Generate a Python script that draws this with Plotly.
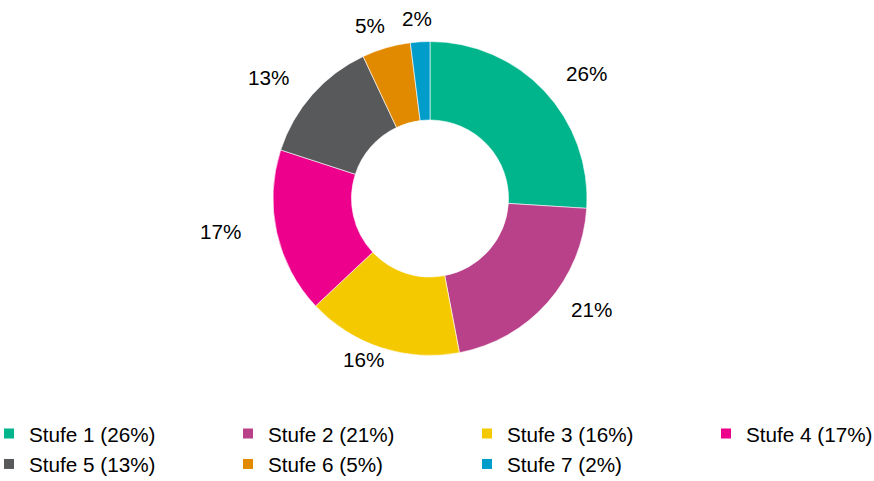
import math
import plotly.graph_objects as go

categories = ["Stufe 1", "Stufe 2", "Stufe 3", "Stufe 4", "Stufe 5", "Stufe 6", "Stufe 7"]
values = [26, 21, 16, 17, 13, 5, 2]
colors = ["#00B48C", "#B8418A", "#F5C900", "#EC008C", "#58595B", "#E18A00", "#009DCB"]

W, H = 874, 481
FONT = "Liberation Sans, Arial, sans-serif"
FS = 20.7

# pie geometry in pixels
cx, cy, R = 430, 198.5, 157
dom_x = [(cx - 430) / W, (cx + 430) / W]
dom_y = [1 - (cy + R) / H, 1 - (cy - R) / H]

legend_names = [f"{c} ({v}%)" for c, v in zip(categories, values)]

fig = go.Figure(go.Pie(
    labels=legend_names,
    values=values,
    marker=dict(colors=colors, line=dict(color="white", width=0.6)),
    hole=0.5,
    sort=False,
    direction="clockwise",
    rotation=0,
    textinfo="none",
    hoverinfo="label+percent",
    domain=dict(x=dom_x, y=dom_y),
    showlegend=False,
))

# outside labels, placed on an ellipse around the slice mid-angles
total = sum(values)
cum = 0
annotations = []
ax_r, ay_r = R + 58, R + 18
label_cy = cy - 5
for v in values:
    mid = (cum + v / 2) / total * 2 * math.pi
    cum += v
    dx, dy = math.sin(mid), -math.cos(mid)
    px = cx + dx * ax_r
    py = label_cy + dy * ay_r
    annotations.append(dict(
        x=px / W, y=1 - py / H, xref="paper", yref="paper",
        text=f"{v}%", showarrow=False, xanchor="center", yanchor="middle",
        font=dict(family=FONT, size=FS, color="#000000"),
    ))

# legend: one small legend per entry, laid out in a 4-column grid
col_x = [18, 257, 496, 735]
row_y = [433.5, 464]
legend_layouts = {}
for i, (name, col) in enumerate(zip(legend_names, colors)):
    key = "legend" if i == 0 else f"legend{i + 1}"
    fig.add_trace(go.Scatter(
        x=[None], y=[None], mode="markers", name=name,
        marker=dict(symbol="square", size=10, color=col),
        legend=key, showlegend=True, hoverinfo="skip",
    ))
    r, c = divmod(i, 4)
    sx = col_x[c] - 29
    sy = row_y[r]
    legend_layouts[key] = dict(
        x=sx / W, xanchor="left",
        y=1 - sy / H, yanchor="middle",
        font=dict(family=FONT, size=FS, color="#000000"),
        bgcolor="rgba(0,0,0,0)",
        borderwidth=0,
    )

fig.update_layout(
    width=W, height=H,
    margin=dict(l=0, r=0, t=0, b=0, autoexpand=False),
    paper_bgcolor="white",
    plot_bgcolor="white",
    font=dict(family=FONT, size=FS, color="#000000"),
    annotations=annotations,
    xaxis=dict(visible=False),
    yaxis=dict(visible=False),
    **legend_layouts,
)

fig.write_html(
    "out.html",
    config={"displayModeBar": False},
    post_script="document.body.style.margin='0';document.body.style.padding='0';",
)
